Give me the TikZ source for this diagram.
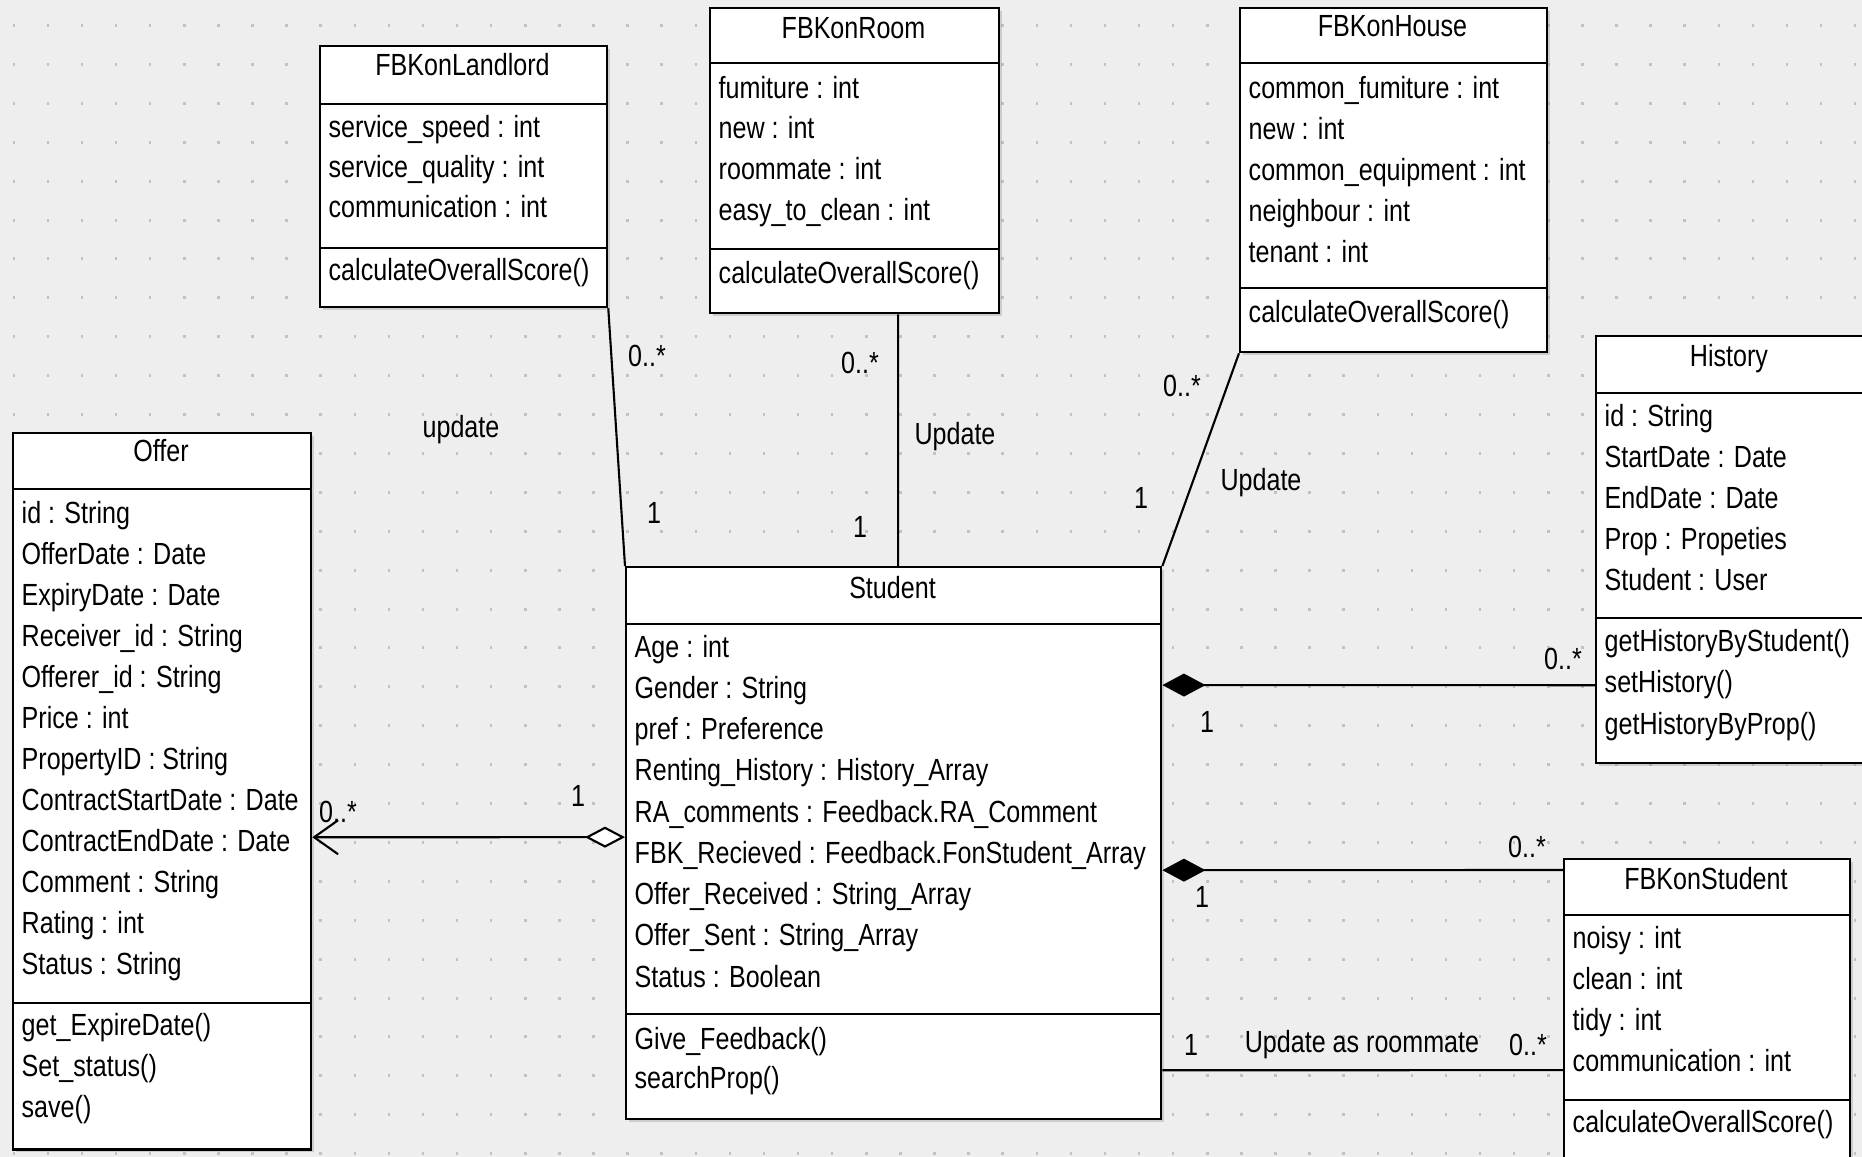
\documentclass[tikz,border=0pt]{standalone}
\usepackage{fontspec}
\newfontfamily\umlfamily{Liberation Sans}[FakeStretch=0.82]
\newcommand\umlfont{\umlfamily\fontsize{8.7pt}{10pt}\selectfont}
\usetikzlibrary{arrows.meta,positioning,calc,shadows}
\definecolor{canvasgray}{HTML}{EEEEEE}
\definecolor{griddot}{HTML}{C2C2C2}
\tikzset{
  classbox/.style={draw=black,fill=white,line width=0.6pt,anchor=north west,inner sep=0pt,
    drop shadow={shadow xshift=0.025cm,shadow yshift=-0.025cm,opacity=0.3}},
  divider/.style={line width=0.6pt},
  classtitle/.style={font=\umlfont,anchor=base,inner sep=0pt},
  membertext/.style={font=\umlfont,anchor=base west,inner sep=0pt},
  endlabel/.style={font=\umlfont,inner sep=0pt},
  assocline/.style={line width=0.6pt},
  compline/.style={assocline,{Diamond[length=4.3mm,width=2.3mm]}-},
  aggline/.style={assocline,{Diamond[fill=white,length=4mm,width=2.1mm]}-{Straight Barb[length=2.4mm,width=3.4mm]}}
}
\begin{document}
\begin{tikzpicture}[x=0.01cm,y=-0.01cm]
  \useasboundingbox (0,0) rectangle (1862,1157);
  \fill[canvasgray] (0,0) rectangle (1862,1157);
  % dotted grid of the editor
  \foreach \i in {0,...,54}
    \foreach \j in {0,...,29}
      \fill[griddot] ({12.5+34.1*\i},{24+38.9*\j}) rectangle ++(2.5,3);

  % Offer
  \node[classbox,minimum width=2.98cm,minimum height=7.16cm] (offer) at (12,432) {};
  \draw[divider] ([yshift=-0.57cm]offer.north west) -- ([yshift=-0.57cm]offer.north east);
  \draw[divider] ([yshift=-5.71cm]offer.north west) -- ([yshift=-5.71cm]offer.north east);
  \node[classtitle] (offer-title) at (161,461) {Offer};
  \foreach \attr [count=\i from 0] in {id : String, OfferDate : Date, ExpiryDate : Date,
      Receiver\_id : String, Offerer\_id : String, Price : int, PropertyID : String,
      ContractStartDate : Date, ContractEndDate : Date, Comment : String, Rating : int,
      Status : String}
    \node[membertext] (offer-a\i) at (21,{523+41*\i}) {\attr};
  \foreach \meth [count=\i from 0] in {get\_ExpireDate(), Set\_status(), save()}
    \node[membertext] (offer-m\i) at (21,{1035+41*\i}) {\meth};

  % FBKonLandlord
  \node[classbox,minimum width=2.87cm,minimum height=2.61cm] (landlord) at (319,45) {};
  \draw[divider] ([yshift=-0.59cm]landlord.north west) -- ([yshift=-0.59cm]landlord.north east);
  \draw[divider] ([yshift=-2.03cm]landlord.north west) -- ([yshift=-2.03cm]landlord.north east);
  \node[classtitle] (landlord-title) at (462.5,75) {FBKonLandlord};
  \foreach \attr [count=\i from 0] in {service\_speed : int, service\_quality : int, communication : int}
    \node[membertext] (landlord-a\i) at (328,{137+40*\i}) {\attr};
  \node[membertext] (landlord-m0) at (328,280) {calculateOverallScore()};

  % FBKonRoom
  \node[classbox,minimum width=2.89cm,minimum height=3.05cm] (room) at (709,7) {};
  \draw[divider] ([yshift=-0.56cm]room.north west) -- ([yshift=-0.56cm]room.north east);
  \draw[divider] ([yshift=-2.42cm]room.north west) -- ([yshift=-2.42cm]room.north east);
  \node[classtitle] (room-title) at (853.5,38) {FBKonRoom};
  \foreach \attr [count=\i from 0] in {fumiture : int, new : int, roommate : int, easy\_to\_clean : int}
    \node[membertext] (room-a\i) at (718,{98+40.7*\i}) {\attr};
  \node[membertext] (room-m0) at (718,283) {calculateOverallScore()};

  % FBKonHouse
  \node[classbox,minimum width=3.07cm,minimum height=3.44cm] (house) at (1239,7) {};
  \draw[divider] ([yshift=-0.56cm]house.north west) -- ([yshift=-0.56cm]house.north east);
  \draw[divider] ([yshift=-2.81cm]house.north west) -- ([yshift=-2.81cm]house.north east);
  \node[classtitle] (house-title) at (1392.5,36) {FBKonHouse};
  \foreach \attr [count=\i from 0] in {common\_fumiture : int, new : int, common\_equipment : int,
      neighbour : int, tenant : int}
    \node[membertext] (house-a\i) at (1248,{98+41*\i}) {\attr};
  \node[membertext] (house-m0) at (1248,322) {calculateOverallScore()};

  % History
  \node[classbox,minimum width=2.68cm,minimum height=4.27cm] (history) at (1595,335) {};
  \draw[divider] ([yshift=-0.58cm]history.north west) -- ([yshift=-0.58cm]history.north east);
  \draw[divider] ([yshift=-2.83cm]history.north west) -- ([yshift=-2.83cm]history.north east);
  \node[classtitle] (history-title) at (1729,366) {History};
  \foreach \attr [count=\i from 0] in {id : String, StartDate : Date, EndDate : Date,
      Prop : Propeties, Student : User}
    \node[membertext] (history-a\i) at (1604,{426+41*\i}) {\attr};
  \foreach \meth [count=\i from 0] in {getHistoryByStudent(), setHistory(), getHistoryByProp()}
    \node[membertext] (history-m\i) at (1604,{651+41.5*\i}) {\meth};

  % FBKonStudent
  \node[classbox,minimum width=2.86cm,minimum height=3.04cm] (fbstudent) at (1563,858) {};
  \draw[divider] ([yshift=-0.57cm]fbstudent.north west) -- ([yshift=-0.57cm]fbstudent.north east);
  \draw[divider] ([yshift=-2.42cm]fbstudent.north west) -- ([yshift=-2.42cm]fbstudent.north east);
  \node[classtitle] (fbstudent-title) at (1706,889) {FBKonStudent};
  \foreach \attr [count=\i from 0] in {noisy : int, clean : int, tidy : int, communication : int}
    \node[membertext] (fbstudent-a\i) at (1572,{948+41*\i}) {\attr};
  \node[membertext] (fbstudent-m0) at (1572,1132) {calculateOverallScore()};

  % Student
  \node[classbox,minimum width=5.35cm,minimum height=5.52cm] (student) at (625,566) {};
  \draw[divider] ([yshift=-0.58cm]student.north west) -- ([yshift=-0.58cm]student.north east);
  \draw[divider] ([yshift=-4.48cm]student.north west) -- ([yshift=-4.48cm]student.north east);
  \node[classtitle] (student-title) at (892.5,598) {Student};
  \foreach \attr [count=\i from 0] in {Age : int, Gender : String, pref : Preference,
      Renting\_History : History\_Array, RA\_comments : Feedback.RA\_Comment,
      FBK\_Recieved : Feedback.FonStudent\_Array, Offer\_Received : String\_Array,
      Offer\_Sent : String\_Array, Status : Boolean}
    \node[membertext] (student-a\i) at (634,{657+41.25*\i}) {\attr};
  \foreach \meth [count=\i from 0] in {Give\_Feedback(), searchProp()}
    \node[membertext] (student-m\i) at (634,{1049+39*\i}) {\meth};

  % associations
  \draw[assocline] (landlord.south east) -- (student.north west);
  \draw[assocline] ([xshift=1.89cm]room.south west) -- ([xshift=2.73cm]student.north west);
  \draw[assocline] (house.south west) -- (student.north east);
  \draw[compline] ([yshift=-1.19cm]student.north east) -- ([yshift=-3.5cm]history.north west);
  \draw[compline] ([yshift=-3.04cm]student.north east) -- ([yshift=-0.12cm]fbstudent.north west);
  \draw[assocline] ([yshift=-5.04cm]student.north east) -- ([yshift=-2.12cm]fbstudent.north west);
  \draw[aggline] ([yshift=-2.71cm]student.north west) -- ([yshift=-4.05cm]offer.north east);

  % multiplicities and role names
  \node[endlabel] (landlord-upd) at (461,430) {update};
  \node[endlabel] (landlord-many) at (647,356) {0..*};
  \node[endlabel] (landlord-one) at (654,513) {1};
  \node[endlabel] (room-many) at (860,363) {0..*};
  \node[endlabel] (room-one) at (860,527) {1};
  \node[endlabel] (room-upd) at (955,437) {Update};
  \node[endlabel] (house-many) at (1182,386) {0..*};
  \node[endlabel] (house-one) at (1141,498) {1};
  \node[endlabel] (house-upd) at (1261,483) {Update};
  \node[endlabel] (history-many) at (1563,659) {0..*};
  \node[endlabel] (history-one) at (1207,722) {1};
  \node[endlabel] (fbk-many) at (1527,847) {0..*};
  \node[endlabel] (fbk-one) at (1202,897) {1};
  \node[endlabel] (mate-one) at (1191,1045) {1};
  \node[endlabel] (mate-upd) at (1362,1045) {Update as roommate};
  \node[endlabel] (mate-many) at (1528,1045) {0..*};
  \node[endlabel] (offer-many) at (338,812) {0..*};
  \node[endlabel] (offer-one) at (578,796) {1};
\end{tikzpicture}
\end{document}
